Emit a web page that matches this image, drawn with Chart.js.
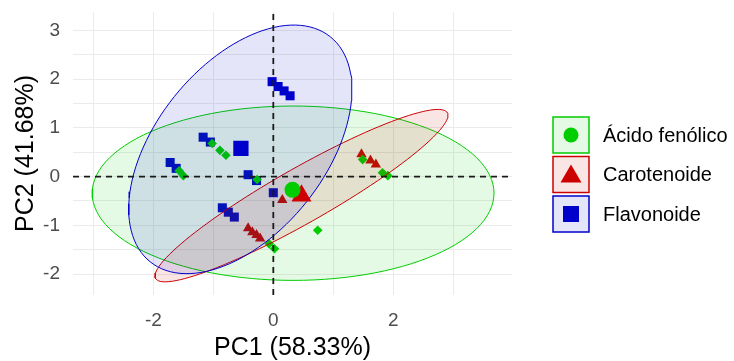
<!DOCTYPE html>
<html>
<head>
<meta charset="utf-8">
<script src="https://cdn.jsdelivr.net/npm/chart.js@4/dist/chart.umd.min.js"></script>
<style>
  body { margin: 0; background: #fff; }
  canvas { display: block; }
</style>
</head>
<body>
<canvas id="pca" width="734" height="361"></canvas>
<script>
// groups and their colours
const groups = ['Ácido fenólico', 'Carotenoide', 'Flavonoide']
const groupColors = ['#00CD00', '#CD0000', '#0000CD']
const groupFills = ['rgba(0,205,0,0.1)', 'rgba(205,0,0,0.1)', 'rgba(0,0,205,0.1)']

// individuals (PC1, PC2)
const fenolicoPC1 = [-1.02, -0.89, -0.79, -1.57, -1.50, -0.27, -0.07, 0.02, 0.74, 1.49, 1.82, 1.91]
const fenolicoPC2 = [0.68, 0.54, 0.44, 0.12, 0.02, -0.06, -1.38, -1.48, -1.10, 0.35, 0.08, 0.02]

const carotenoidePC1 = [0.15, -0.42, -0.35, -0.28, -0.22, 1.47, 1.62, 1.71]
const carotenoidePC2 = [-0.48, -1.06, -1.14, -1.20, -1.27, 0.46, 0.33, 0.25]

const flavonoidePC1 = [-0.02, 0.08, 0.18, 0.28, -1.17, -1.05, -1.72, -1.62, -0.42, -0.28, 0.0, -0.85, -0.75, -0.65]
const flavonoidePC2 = [1.95, 1.85, 1.76, 1.66, 0.81, 0.71, 0.29, 0.17, 0.04, -0.08, -0.33, -0.64, -0.73, -0.83]

// group means
const meanPC1 = [0.32, 0.47, -0.54]
const meanPC2 = [-0.27, -0.39, 0.58]

// concentration ellipses: centre, semi axes, angle (deg)
const ellipseCx = [0.33, 0.47, -0.55]
const ellipseCy = [-0.34, -0.39, 0.56]
const ellipseA = [3.35, 2.97, 2.78]
const ellipseB = [1.79, 0.53, 1.50]
const ellipseAngle = [0, 35.3, 61.9]

// axis limits and labelled ticks
const xMin = -3.34, xMax = 3.98
const yMin = -2.43, yMax = 3.38
const xTickLabels = [-2, 0, 2]
const yTickLabels = [-2, -1, 0, 1, 2, 3]

const toPoints = (xs, ys) => xs.map((x, i) => ({x: x, y: ys[i]}))

const ellipsePoints = (i) => {
  let pts = []
  let t = ellipseAngle[i] * Math.PI / 180
  for (let k = 0; k <= 120; k++) {
    let a = k / 120 * 2 * Math.PI
    let ex = ellipseA[i] * Math.cos(a), ey = ellipseB[i] * Math.sin(a)
    pts.push({
      x: ellipseCx[i] + ex * Math.cos(t) - ey * Math.sin(t),
      y: ellipseCy[i] + ex * Math.sin(t) + ey * Math.cos(t),
    })
  }
  return pts
}

const pointSets = [
  toPoints(fenolicoPC1, fenolicoPC2),
  toPoints(carotenoidePC1, carotenoidePC2),
  toPoints(flavonoidePC1, flavonoidePC2),
]
const smallStyle = ['rectRot', 'triangle', 'rect']
const smallRadius = [4.8, 6, 6.4]
const meanStyle = ['circle', 'triangle', 'rect']
const meanRadius = [8, 11.5, 10.8]

let datasets = []

// small points (drawn first)
pointSets.forEach((pts, i) => {
  datasets.push({
    label: groups[i],
    data: pts,
    pointStyle: smallStyle[i],
    pointRadius: smallRadius[i],
    backgroundColor: groupColors[i],
    borderColor: groupColors[i],
    borderWidth: 0,
    order: 10,
  })
})

// ellipses
groups.forEach((g, i) => {
  datasets.push({
    label: g + ' ellipse',
    data: ellipsePoints(i),
    showLine: true,
    pointRadius: 0,
    borderColor: groupColors[i],
    borderWidth: 1,
    backgroundColor: groupFills[i],
    fill: 'shape',
    tension: 0,
    order: 6 - i,
  })
})

// dashed reference lines
datasets.push({
  data: [{x: 0, y: yMin}, {x: 0, y: yMax}],
  showLine: true, pointRadius: 0, borderColor: '#1a1a1a', borderWidth: 1.8,
  borderDash: [6, 5], fill: false, order: 2,
})
datasets.push({
  data: [{x: xMin, y: 0}, {x: xMax, y: 0}],
  showLine: true, pointRadius: 0, borderColor: '#1a1a1a', borderWidth: 1.8,
  borderDash: [6, 5], fill: false, order: 2,
})

// group means
groups.forEach((g, i) => {
  datasets.push({
    label: g + ' mean',
    data: [{x: meanPC1[i], y: meanPC2[i]}],
    pointStyle: meanStyle[i],
    pointRadius: meanRadius[i],
    backgroundColor: groupColors[i],
    borderColor: groupColors[i],
    borderWidth: 0,
    order: 0,
  })
})

// ggplot style legend with boxed keys
const groupLegend = {
  id: 'groupLegend',
  afterDraw(chart) {
    const ctx = chart.ctx
    groups.forEach((g, i) => {
      let x = 553, y = 117 + i * 39.5, s = 36
      let cx = x + s / 2, cy = y + s / 2
      ctx.save()
      ctx.fillStyle = '#fff'
      ctx.fillRect(x, y, s, s)
      ctx.fillStyle = groupFills[i]
      ctx.fillRect(x, y, s, s)
      ctx.strokeStyle = groupColors[i]
      ctx.lineWidth = 1.5
      ctx.strokeRect(x, y, s, s)
      ctx.fillStyle = groupColors[i]
      ctx.beginPath()
      if (i === 0) {
        ctx.arc(cx, cy, 7.5, 0, 2 * Math.PI)
      } else if (i === 1) {
        ctx.moveTo(cx, cy - 10)
        ctx.lineTo(cx + 10.5, cy + 8)
        ctx.lineTo(cx - 10.5, cy + 8)
        ctx.closePath()
      } else {
        ctx.rect(cx - 8, cy - 8, 16, 16)
      }
      ctx.fill()
      ctx.fillStyle = '#000'
      ctx.font = '20px "Liberation Sans", Arial, sans-serif'
      ctx.textAlign = 'left'
      ctx.textBaseline = 'middle'
      ctx.fillText(g, 603, cy + 1)
      ctx.restore()
    })
  }
}

const tickFont = {family: '"Liberation Sans", Arial, sans-serif', size: 19}
const titleFont = {family: '"Liberation Sans", Arial, sans-serif', size: 25, lineHeight: 1}

let chart = new Chart(document.getElementById('pca').getContext('2d'), {
  type: 'scatter',
  data: {datasets: datasets},
  options: {
    responsive: false,
    animation: false,
    layout: {padding: {top: 12, right: 222, left: 0, bottom: 0}},
    plugins: {legend: {display: false}, tooltip: {enabled: false}},
    scales: {
      x: {
        min: xMin, max: xMax,
        afterFit: (scale) => { scale.height = 66; scale.paddingLeft = 0; scale.paddingRight = 0 },
        border: {display: false},
        grid: {color: '#ebebeb', lineWidth: 1, drawTicks: false},
        ticks: {
          stepSize: 1, includeBounds: false, padding: 14, color: '#4d4d4d', font: tickFont,
          maxRotation: 0,
          callback: (v) => xTickLabels.includes(v) ? String(v) : '',
        },
        title: {display: true, text: 'PC1 (58.33%)', color: '#000', font: titleFont, padding: {top: 0, bottom: 0}},
      },
      y: {
        min: yMin, max: yMax,
        afterFit: (scale) => { scale.width = 73; scale.paddingTop = 0; scale.paddingBottom = 0 },
        border: {display: false},
        grid: {color: '#ebebeb', lineWidth: 1, drawTicks: false},
        ticks: {
          stepSize: 0.5, includeBounds: false, padding: 13, color: '#4d4d4d', font: tickFont,
          callback: (v) => yTickLabels.includes(v) ? String(v) : '',
        },
        title: {display: true, text: 'PC2 (41.68%)', color: '#000', font: titleFont, padding: {top: 14, bottom: 0}},
      },
    },
  },
  plugins: [groupLegend],
})
</script>
</body>
</html>
